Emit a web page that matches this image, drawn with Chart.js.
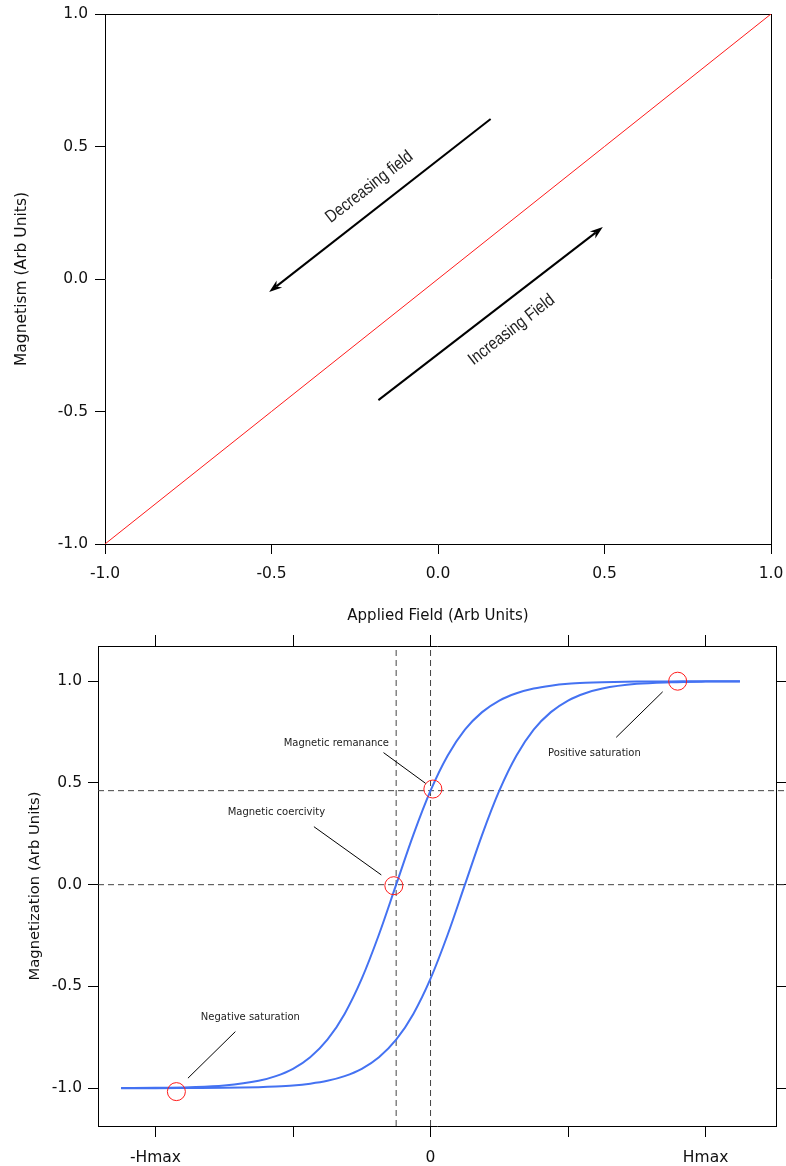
<!DOCTYPE html>
<html>
<head>
<meta charset="utf-8">
<script src="https://cdn.jsdelivr.net/npm/chart.js@4.4.0/dist/chart.umd.min.js"></script>
<style>
  body { margin: 0; background: #fff; }
  canvas { display: block; }
</style>
</head>
<body>
<canvas id="linear" width="786" height="630"></canvas>
<canvas id="loop" width="786" height="536"></canvas>
<script>
// top panel: magnetism straight through the origin
const fieldLin = [-1, -0.5, 0, 0.5, 1];
const magLin = [-1, -0.5, 0, 0.5, 1];
const linTicks = [-1, -0.5, 0, 0.5, 1];

// bottom panel: hysteresis loop, both branches on the same field grid
const fieldLoop = [-2.25, -2, -1.75, -1.5, -1.25, -1.125, -1, -0.875, -0.75, -0.625, -0.5, -0.375, -0.25, -0.125,
  0, 0.125, 0.25, 0.375, 0.5, 0.625, 0.75, 0.875, 1, 1.125, 1.25, 1.5, 1.75, 2, 2.25];
const magFalling = [-0.999, -0.998, -0.995, -0.987, -0.964, -0.941, -0.905, -0.848, -0.762, -0.635, -0.462, -0.245, 0, 0.245,
  0.462, 0.635, 0.762, 0.848, 0.905, 0.941, 0.964, 0.978, 0.987, 0.992, 0.995, 0.998, 0.999, 1.0, 1.0];
const magRising = [-1.0, -1.0, -0.999, -0.998, -0.995, -0.992, -0.987, -0.978, -0.964, -0.941, -0.905, -0.848, -0.762, -0.635,
  -0.462, -0.245, 0, 0.245, 0.462, 0.635, 0.762, 0.848, 0.905, 0.941, 0.964, 0.987, 0.995, 0.998, 0.999];
const loopXTicks = [-2, -1, 0, 1, 2];
const loopXLabels = ['-Hmax', '', '0', '', 'Hmax'];
const loopYTicks = [-1, -0.5, 0, 0.5, 1];

// coercive field and remanent magnetization (dashed guides)
const coerciveField = -0.25;
const remanentMag = 0.462;

// ringed points: negative saturation, coercivity, remanence, positive saturation
const ringH = [-1.848, -0.267, 0.017, 1.797];
const ringM = [-1.017, -0.005, 0.47, 1.0];

const TICK_FONT = { family: '"DejaVu Sans", sans-serif', size: 15.5 };
const INK = '#111';

function pts(xs, ys) { return xs.map((v, i) => ({ x: v, y: ys[i] })); }

function frameAxis(position, min, max, size, tickLen, values, extra) {
  const horiz = position === 'top' || position === 'bottom';
  return Object.assign({
    type: 'linear', position, min, max,
    afterBuildTicks: s => { s.ticks = values.map(v => ({ value: v })); },
    afterFit: s => {
      if (horiz) s.height = size; else s.width = size;
      // keep the plot box fixed: no room reserved for overhanging end labels
      s.paddingLeft = s.paddingRight = s.paddingTop = s.paddingBottom = 0;
    },
    grid: { drawOnChartArea: false, drawTicks: tickLen > 0, tickLength: tickLen, color: '#000', lineWidth: 1 },
    border: { display: true, color: '#000', width: 1 },
    ticks: { display: false }
  }, extra || {});
}

// arrows + rotated captions along them
const sweeps = [
  { from: [0.158, 0.604], to: [-0.507, -0.049], text: 'Decreasing field', at: [-0.206, 0.347] },
  { from: [-0.179, -0.457], to: [0.495, 0.196], text: 'Increasing Field', at: [0.221, -0.192] }
];

const sweepArrows = {
  id: 'sweepArrows',
  afterDatasetsDraw(chart) {
    const { ctx, scales: { x, y } } = chart;
    ctx.save();
    ctx.strokeStyle = '#000';
    ctx.fillStyle = '#000';
    ctx.lineWidth = 2;
    sweeps.forEach(s => {
      const x1 = x.getPixelForValue(s.from[0]), y1 = y.getPixelForValue(s.from[1]);
      const x2 = x.getPixelForValue(s.to[0]), y2 = y.getPixelForValue(s.to[1]);
      const a = Math.atan2(y2 - y1, x2 - x1), c = Math.cos(a), sn = Math.sin(a);
      const len = 13, half = 4.5;
      ctx.beginPath();
      ctx.moveTo(x1, y1);
      ctx.lineTo(x2 - len * 0.7 * c, y2 - len * 0.7 * sn);
      ctx.stroke();
      ctx.beginPath();
      ctx.moveTo(x2, y2);
      ctx.lineTo(x2 - len * c + half * sn, y2 - len * sn - half * c);
      ctx.lineTo(x2 - len * 0.7 * c, y2 - len * 0.7 * sn);
      ctx.lineTo(x2 - len * c - half * sn, y2 - len * sn + half * c);
      ctx.closePath();
      ctx.fill();

      let rot = a;
      if (rot > Math.PI / 2) rot -= Math.PI;
      if (rot < -Math.PI / 2) rot += Math.PI;
      ctx.save();
      ctx.translate(x.getPixelForValue(s.at[0]), y.getPixelForValue(s.at[1]));
      ctx.rotate(rot);
      ctx.scale(0.84, 1); // narrow face
      ctx.font = '17.5px "Liberation Sans", Arial, sans-serif';
      ctx.fillStyle = '#222';
      ctx.textAlign = 'center';
      ctx.textBaseline = 'middle';
      ctx.fillText(s.text, 0, 0);
      ctx.restore();
    });
    ctx.restore();
  }
};

new Chart(document.getElementById('linear'), {
  type: 'line',
  data: {
    datasets: [{
      data: pts(fieldLin, magLin),
      borderColor: '#ff1a1a',
      borderWidth: 1,
      pointRadius: 0,
      tension: 0
    }]
  },
  options: {
    responsive: false,
    animation: false,
    events: [],
    layout: { padding: 0 },
    plugins: { legend: { display: false }, tooltip: { enabled: false } },
    scales: {
      x: frameAxis('bottom', -1, 1, 86, 10, linTicks, {
        ticks: { display: true, color: INK, font: TICK_FONT, padding: 11, maxRotation: 0,
          callback: v => v.toFixed(1) },
        title: { display: true, text: 'Applied Field (Arb Units)', color: INK,
          font: { family: '"DejaVu Sans", sans-serif', size: 15 }, padding: { top: 0, bottom: 5 } }
      }),
      xTop: frameAxis('top', -1, 1, 14, 0, linTicks),
      y: frameAxis('left', -1, 1, 105, 10, linTicks, {
        ticks: { display: true, color: INK, font: TICK_FONT, padding: 7,
          callback: v => v.toFixed(1) },
        title: { display: true, text: 'Magnetism (Arb Units)', color: INK,
          font: { family: '"DejaVu Sans", sans-serif', size: 15.5 }, padding: { top: 13, bottom: 0 } }
      }),
      yRight: frameAxis('right', -1, 1, 15, 0, linTicks)
    }
  },
  plugins: [sweepArrows]
});

// callouts on the loop: caption position and leader line, in field/magnetization units
const callouts = [
  { text: 'Magnetic remanance', at: [-0.685, 0.695], line: [[-0.342, 0.649], [-0.036, 0.498]] },
  { text: 'Magnetic coercivity', at: [-1.121, 0.356], line: [[-0.848, 0.285], [-0.358, 0.048]] },
  { text: 'Positive saturation', at: [1.192, 0.646], line: [[1.350, 0.724], [1.688, 0.948]] },
  { text: 'Negative saturation', at: [-1.310, -0.652], line: [[-1.764, -0.951], [-1.419, -0.722]] }
];

const calloutLabels = {
  id: 'calloutLabels',
  afterDatasetsDraw(chart) {
    const { ctx, scales: { x, y } } = chart;
    ctx.save();
    ctx.strokeStyle = '#000';
    ctx.lineWidth = 1;
    ctx.fillStyle = '#222';
    ctx.font = '10px "DejaVu Sans", sans-serif';
    ctx.textAlign = 'center';
    ctx.textBaseline = 'middle';
    callouts.forEach(c => {
      ctx.beginPath();
      ctx.moveTo(x.getPixelForValue(c.line[0][0]), y.getPixelForValue(c.line[0][1]));
      ctx.lineTo(x.getPixelForValue(c.line[1][0]), y.getPixelForValue(c.line[1][1]));
      ctx.stroke();
      ctx.fillText(c.text, x.getPixelForValue(c.at[0]), y.getPixelForValue(c.at[1]));
    });
    ctx.restore();
  }
};

const xLo = -2.418, xHi = 2.512, yLo = -1.186, yHi = 1.173;
const guide = { borderColor: '#444', borderWidth: 1, borderDash: [6, 4], pointRadius: 0, order: 5 };

new Chart(document.getElementById('loop'), {
  type: 'line',
  data: {
    datasets: [
      {
        type: 'scatter',
        data: pts(ringH, ringM),
        showLine: false,
        pointRadius: 9,
        pointBorderWidth: 1,
        borderColor: '#ff1a1a',
        backgroundColor: 'rgba(0,0,0,0)',
        order: 0
      },
      { data: pts(fieldLoop, magFalling), borderColor: '#4472f2', borderWidth: 2, pointRadius: 0,
        cubicInterpolationMode: 'monotone', order: 1 },
      { data: pts(fieldLoop, magRising), borderColor: '#4472f2', borderWidth: 2, pointRadius: 0,
        cubicInterpolationMode: 'monotone', order: 1 },
      Object.assign({ data: pts([xLo, 2.585], [0, 0]), clip: { left: 0, top: 0, right: 10, bottom: 0 } }, guide),
      Object.assign({ data: pts([xLo, 2.585], [remanentMag, remanentMag]), clip: { left: 0, top: 0, right: 10, bottom: 0 } }, guide),
      Object.assign({ data: pts([coerciveField, coerciveField], [yLo, yHi]) }, guide),
      Object.assign({ data: pts([0, 0], [yLo, yHi]) }, guide)
    ]
  },
  options: {
    responsive: false,
    animation: false,
    events: [],
    layout: { padding: 0 },
    plugins: { legend: { display: false }, tooltip: { enabled: false } },
    scales: {
      x: frameAxis('bottom', xLo, xHi, 40, 11, loopXTicks, {
        ticks: { display: true, color: INK, font: TICK_FONT, padding: 12, maxRotation: 0, autoSkip: false,
          callback: (v, i) => loopXLabels[i] }
      }),
      xTop: frameAxis('top', xLo, xHi, 16, 11, loopXTicks),
      y: frameAxis('left', yLo, yHi, 98, 10, loopYTicks, {
        ticks: { display: true, color: INK, font: TICK_FONT, padding: 6,
          callback: v => v.toFixed(1) },
        title: { display: true, text: 'Magnetization (Arb Units)', color: INK,
          font: { family: '"DejaVu Sans", sans-serif', size: 14.8 }, padding: { top: 26, bottom: 0 } }
      }),
      yRight: frameAxis('right', yLo, yHi, 10, 10, loopYTicks)
    }
  },
  plugins: [calloutLabels]
});
</script>
</body>
</html>
